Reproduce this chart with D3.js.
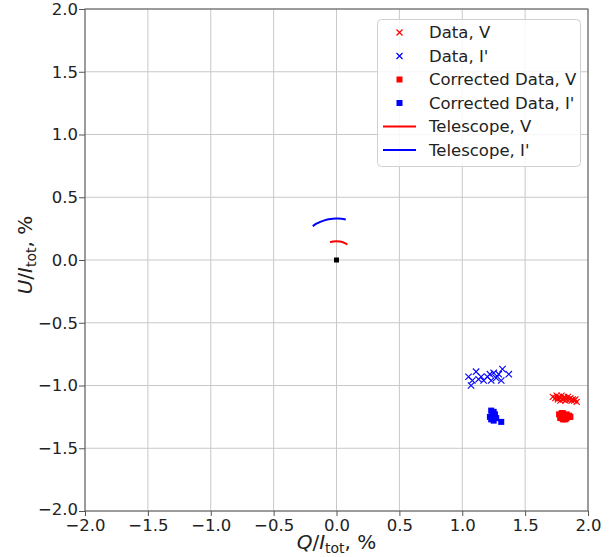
<!DOCTYPE html>
<html><head><meta charset="utf-8">
<script src="https://cdn.jsdelivr.net/npm/d3@7"></script>
<style>
body{margin:0;background:#fff;}
text{font-family:"DejaVu Sans",sans-serif;fill:#222;}
</style></head>
<body><svg id="c" width="616" height="557"></svg>
<script>
// ---- data ----
const ticks = [-2.0,-1.5,-1.0,-0.5,0.0,0.5,1.0,1.5,2.0];
const dataV_Q = [1.72,1.74,1.75,1.76,1.77,1.78,1.79,1.80,1.81,1.82,1.83,1.84,1.85,1.86,1.87,1.88,1.89,1.90,1.91,1.78,1.82,1.76];
const dataV_U = [-1.09,-1.10,-1.08,-1.11,-1.09,-1.10,-1.08,-1.11,-1.09,-1.10,-1.11,-1.09,-1.11,-1.10,-1.12,-1.11,-1.12,-1.11,-1.13,-1.12,-1.12,-1.10];
const dataI_Q = [1.05,1.07,1.08,1.11,1.13,1.17,1.20,1.23,1.25,1.27,1.29,1.31,1.32,1.37,1.15,1.22];
const dataI_U = [-0.93,-1.00,-0.96,-0.89,-0.95,-0.96,-0.93,-0.96,-0.90,-0.94,-0.91,-0.96,-0.87,-0.91,-0.93,-0.91];
const corrV_Q = [1.77,1.78,1.79,1.80,1.81,1.82,1.83,1.84,1.85,1.86,1.78,1.80,1.83,1.85,1.79,1.82];
const corrV_U = [-1.23,-1.25,-1.24,-1.22,-1.25,-1.24,-1.23,-1.25,-1.24,-1.25,-1.26,-1.27,-1.26,-1.25,-1.22,-1.27];
const corrI_Q = [1.23,1.25,1.24,1.26,1.23,1.25,1.27,1.31,1.22,1.24];
const corrI_U = [-1.20,-1.21,-1.24,-1.23,-1.27,-1.28,-1.26,-1.29,-1.25,-1.22];
const origin_Q = [0.0];
const origin_U = [0.0];
const telV_Q = [-0.051,-0.026,0.000,0.026,0.051,0.075,0.086];
const telV_U = [0.141,0.148,0.150,0.148,0.141,0.130,0.123];
const telI_Q = [-0.189,-0.160,-0.129,-0.096,-0.063,-0.029,0.006,0.040,0.074];
const telI_U = [0.270,0.289,0.304,0.316,0.324,0.329,0.330,0.328,0.322];
const legendLabels = ["Data, V","Data, I'","Corrected Data, V","Corrected Data, I'","Telescope, V","Telescope, I'"];

// ---- layout ----
const L=85, R=588, T=9, B=511;
const svg=d3.select("#c");
const x=d3.scaleLinear().domain([-2,2]).range([L,R]);
const y=d3.scaleLinear().domain([-2,2]).range([B,T]);

// grid
svg.append("g").selectAll("line").data(ticks).join("line")
  .attr("x1",d=>x(d)).attr("x2",d=>x(d)).attr("y1",T).attr("y2",B)
  .attr("stroke","#c8c8c8").attr("stroke-width",1);
svg.append("g").selectAll("line").data(ticks).join("line")
  .attr("y1",d=>y(d)).attr("y2",d=>y(d)).attr("x1",L).attr("x2",R)
  .attr("stroke","#c8c8c8").attr("stroke-width",1);

// axes
const fmt=d=>d.toFixed(1).replace("-","\u2212");
const xa=svg.append("g").attr("transform",`translate(0,${B})`)
  .call(d3.axisBottom(x).tickValues(ticks).tickFormat(fmt).tickSize(5).tickPadding(3));
const ya=svg.append("g").attr("transform",`translate(${L},0)`)
  .call(d3.axisLeft(y).tickValues(ticks).tickFormat(fmt).tickSize(6).tickPadding(1));
[xa,ya].forEach(g=>{
  g.selectAll("text").style("font-size","16.5px").style("fill","#222");
  g.selectAll("line").attr("stroke","#555");
  g.select(".domain").remove();
});
// nudge the bottom-most y label up a touch so it does not collide with the x label
ya.selectAll(".tick").filter(d=>d===-2).select("text").attr("dy","0.2em");
svg.append("rect").attr("x",L).attr("y",T).attr("width",R-L).attr("height",B-T)
  .attr("fill","none").attr("stroke","#555").attr("stroke-width",1);

// marker helpers
function crosses(Q,U,color,s){
  const g=svg.append("g");
  g.selectAll("path").data(d3.zip(Q,U)).join("path")
   .attr("d",d=>{const cx=x(d[0]),cy=y(d[1]);return `M${cx-s},${cy-s}L${cx+s},${cy+s}M${cx-s},${cy+s}L${cx+s},${cy-s}`;})
   .attr("stroke",color).attr("stroke-width",1.1).attr("fill","none");
}
function squares(Q,U,color,s){
  svg.append("g").selectAll("rect").data(d3.zip(Q,U)).join("rect")
   .attr("x",d=>x(d[0])-s).attr("y",d=>y(d[1])-s).attr("width",2*s).attr("height",2*s)
   .attr("fill",color);
}
const line=d3.line().x(d=>x(d[0])).y(d=>y(d[1])).curve(d3.curveCatmullRom);

crosses(dataV_Q,dataV_U,"red",3);
crosses(dataI_Q,dataI_U,"blue",3.2);
squares(corrV_Q,corrV_U,"red",3);
squares(corrI_Q,corrI_U,"blue",3);
svg.append("path").datum(d3.zip(telV_Q,telV_U)).attr("d",line).attr("fill","none").attr("stroke","red").attr("stroke-width",2);
svg.append("path").datum(d3.zip(telI_Q,telI_U)).attr("d",line).attr("fill","none").attr("stroke","blue").attr("stroke-width",2);
squares(origin_Q,origin_U,"black",2.5);

// legend
const lg=svg.append("g");
lg.append("rect").attr("x",377.5).attr("y",19.5).attr("width",203).attr("height",147).attr("rx",4)
  .attr("fill","rgba(255,255,255,0.85)").attr("stroke","#d0d0d0");
const rowY=i=>32.5+i*23.5;
const kinds=[["x","#ff0000"],["x","#0000ff"],["s","#ff0000"],["s","#0000ff"],["l","#ff0000"],["l","#0000ff"]];
kinds.forEach((k,i)=>{
  const cy=rowY(i), cx=399.5;
  if(k[0]=="x") lg.append("path").attr("d",`M${cx-3},${cy-3}L${cx+3},${cy+3}M${cx-3},${cy+3}L${cx+3},${cy-3}`).attr("stroke",k[1]).attr("stroke-width",1.2).attr("fill","none");
  else if(k[0]=="s") lg.append("rect").attr("x",cx-3).attr("y",cy-3).attr("width",6).attr("height",6).attr("fill",k[1]);
  else lg.append("line").attr("x1",383).attr("x2",416).attr("y1",cy).attr("y2",cy).attr("stroke",k[1]).attr("stroke-width",2);
  lg.append("text").attr("x",429).attr("y",cy).attr("dy","0.36em").style("font-size","16.5px").text(legendLabels[i]);
});

// axis labels
const xl=svg.append("text").attr("x",(L+R)/2).attr("y",549).attr("text-anchor","middle").style("font-size","20px");
xl.append("tspan").style("font-style","italic").text("Q");
xl.append("tspan").text("/");
xl.append("tspan").style("font-style","italic").text("I");
xl.append("tspan").attr("dy","4").style("font-size","14px").text("tot");
xl.append("tspan").attr("dy","-4").text(", %");
const yl=svg.append("text").attr("transform",`translate(32,${(T+B)/2-5}) rotate(-90)`).attr("text-anchor","middle").style("font-size","20px");
yl.append("tspan").style("font-style","italic").text("U");
yl.append("tspan").text("/");
yl.append("tspan").style("font-style","italic").text("I");
yl.append("tspan").attr("dy","4").style("font-size","14px").text("tot");
yl.append("tspan").attr("dy","-4").text(", %");
</script></body></html>
